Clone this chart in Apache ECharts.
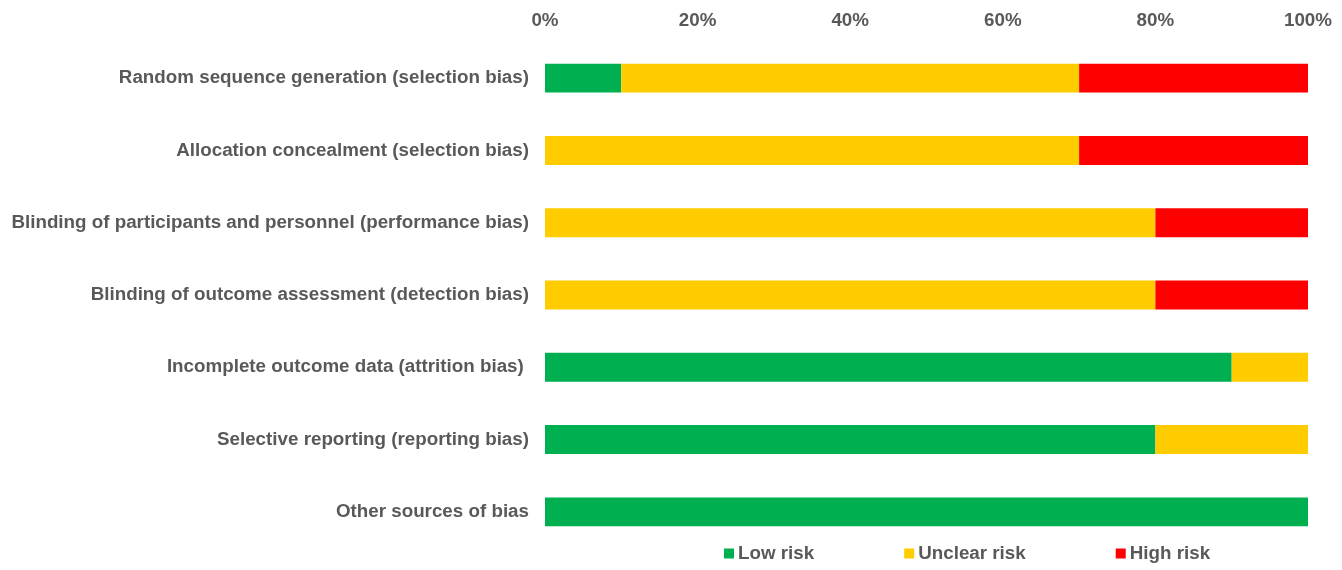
<!DOCTYPE html>
<html>
<head>
<meta charset="utf-8">
<script src="https://cdn.jsdelivr.net/npm/echarts@6/dist/echarts.min.js"></script>
<style>html,body{margin:0;padding:0;background:#fff}#c{width:1342px;height:570px}</style>
</head>
<body>
<div id="c"></div>
<script>
const categories = [
  'Random sequence generation (selection bias)',
  'Allocation concealment (selection bias)',
  'Blinding of participants and personnel (performance bias)',
  'Blinding of outcome assessment (detection bias)',
  'Incomplete outcome data (attrition bias) ',
  'Selective reporting (reporting bias)',
  'Other sources of bias'
];
const lowRisk = [10, 0, 0, 0, 90, 80, 100];
const unclearRisk = [60, 70, 80, 80, 10, 20, 0];
const highRisk = [30, 30, 20, 20, 0, 0, 0];
const xTicks = [0, 20, 40, 60, 80, 100];

const font = 'Liberation Sans, Arial, sans-serif';
const txt = '#595959';
const fs = 18.8;
const chart = echarts.init(document.getElementById('c'));
const mk = (name, data, color) => ({
  name, type: 'bar', stack: 'total', data, barWidth: '40%',
  itemStyle: { color }
});
chart.setOption({
  animation: false,
  grid: { left: 545, right: 34, top: 42, bottom: 22, containLabel: false },
  legend: {
    bottom: 2, left: 719,
    itemWidth: 10, itemHeight: 10, itemGap: 90, icon: 'rect',
    textStyle: { color: txt, fontFamily: font, fontSize: fs, fontWeight: 'bold', padding: [0, 0, 0, -1] },
    data: ['Low risk', 'Unclear risk', 'High risk']
  },
  xAxis: {
    type: 'value', position: 'top', min: xTicks[0], max: xTicks[xTicks.length - 1], interval: 20,
    axisLine: { show: false }, axisTick: { show: false }, splitLine: { show: false },
    axisLabel: { formatter: '{value}%', color: txt, fontFamily: font, fontSize: fs, fontWeight: 'bold', margin: 12 }
  },
  yAxis: {
    type: 'category', inverse: true, data: categories,
    axisLine: { show: false }, axisTick: { show: false },
    axisLabel: { color: txt, fontFamily: font, fontSize: fs, fontWeight: 'bold', margin: 16 }
  },
  series: [
    mk('Low risk', lowRisk, '#00B050'),
    mk('Unclear risk', unclearRisk, '#FFCC00'),
    mk('High risk', highRisk, '#FF0000')
  ]
});
</script>
</body>
</html>
